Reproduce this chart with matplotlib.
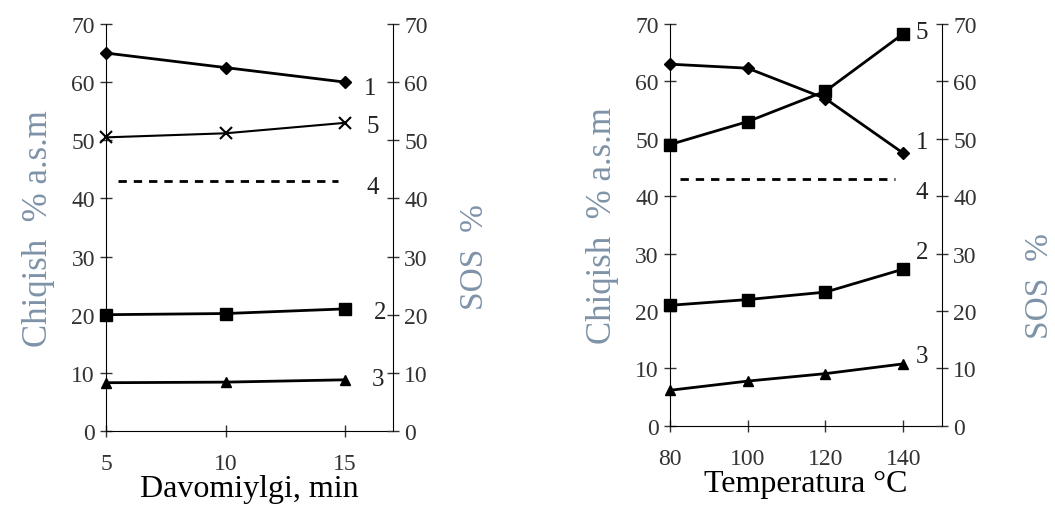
import matplotlib
matplotlib.use('Agg')
import matplotlib.pyplot as plt

plt.rcParams['font.family'] = ['Liberation Serif', 'DejaVu Serif']

# left panel: duration, min
dur = [5, 10, 15]
dur_s1 = [65, 62.5, 60]
dur_s5 = [50.5, 51.2, 53]
dur_s2 = [20, 20.2, 21]
dur_s3 = [8.3, 8.4, 8.8]
dur_s4_x = [5.5, 14.7]
dur_s4 = [43, 43]
dur_lbl_x = [15.8, 15.9, 15.9, 16.2, 16.1]
dur_lbl_y = [59, 52.5, 42, 20.5, 9]

# right panel: temperature, C
temp = [80, 100, 120, 140]
temp_s1 = [63, 62.3, 57, 47.5]
temp_s5 = [49, 53, 58.3, 68.3]
temp_s2 = [21, 22, 23.3, 27.3]
temp_s3 = [6.2, 7.8, 9.1, 10.8]
temp_s4_x = [82.5, 138]
temp_s4 = [43, 43]
temp_lbl_x = [143.2, 143.2, 143.2, 143.2, 143.2]
temp_lbl_y = [49.5, 68.6, 40.8, 30.3, 12.2]

lbl_names = ['1', '5', '4', '2', '3']
yticks = [0, 10, 20, 30, 40, 50, 60, 70]
label_col = '#7f93a8'
tick_col = '#333333'

fig = plt.figure(figsize=(10.55, 5.1), dpi=100)


def setup(ax, xlim, xticks, xlabel):
    ax.set_xlim(*xlim)
    ax.set_ylim(0, 70)
    ax.set_xticks(xticks)
    ax.set_yticks(yticks)
    ax.spines['top'].set_visible(False)
    ax.spines['right'].set_visible(False)
    ax.tick_params(direction='inout', length=8, width=1, labelsize=17, colors=tick_col, pad=4)
    ax.tick_params(axis='x', pad=12)
    ax.set_xlabel(xlabel, fontsize=23, color='black', labelpad=0)
    ax2 = ax.twinx()
    ax2.set_ylim(0, 70)
    ax2.set_yticks(yticks)
    for s in ['top', 'left', 'bottom']:
        ax2.spines[s].set_visible(False)
    ax2.tick_params(direction='inout', length=8, width=1, labelsize=17, colors=tick_col, pad=4)
    return ax2


kw = dict(color='black', lw=2, clip_on=False)

# left panel
ax = fig.add_axes([0.1005, 0.153, 0.272, 0.798])
ax2 = setup(ax, (5, 17), [5, 10, 15], 'Davomiylgi, min')
ax.plot(dur, dur_s1, marker='D', ms=6, **kw)
ax.plot(dur, dur_s5, marker='x', ms=8, mew=1.5, color='black', lw=1.5, clip_on=False)
ax.plot(dur, dur_s2, marker='s', ms=8, **kw)
ax.plot(dur, dur_s3, marker='^', ms=7, **kw)
ax.plot(dur_s4_x, dur_s4, color='black', lw=2, ls=(0, (3, 2.5)))
for t, x, y in zip(lbl_names, dur_lbl_x, dur_lbl_y):
    ax.text(x, y, t, fontsize=18, color='#222222', ha='left', va='center')
ax.set_ylabel('Chiqish  % a.s.m', fontsize=25, color=label_col, labelpad=12)
fig.text(0.450, 0.496, 'SOS  %', rotation=90, fontsize=24, color=label_col,
         ha='center', va='center')

# right panel
ax = fig.add_axes([0.635, 0.163, 0.258, 0.788])
ax2 = setup(ax, (80, 150), [80, 100, 120, 140], 'Temperatura °C')
ax.plot(temp, temp_s1, marker='D', ms=6, **kw)
ax.plot(temp, temp_s5, marker='s', ms=9, **kw)
ax.plot(temp, temp_s2, marker='s', ms=9, **kw)
ax.plot(temp, temp_s3, marker='^', ms=7, **kw)
ax.plot(temp_s4_x, temp_s4, color='black', lw=2, ls=(0, (3, 2.5)))
for t, x, y in zip(lbl_names, temp_lbl_x, temp_lbl_y):
    ax.text(x, y, t, fontsize=18, color='#222222', ha='left', va='center')
ax.set_ylabel('Chiqish  % a.s.m', fontsize=25, color=label_col, labelpad=12)
fig.text(0.986, 0.44, 'SOS  %', rotation=90, fontsize=24, color=label_col,
         ha='center', va='center')

fig.savefig('out.png', dpi=100)
